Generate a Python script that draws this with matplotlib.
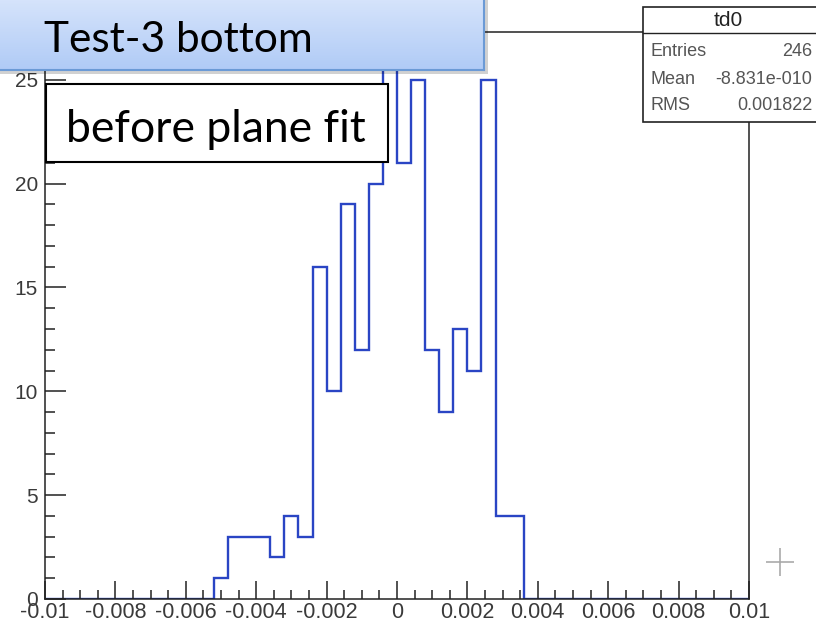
import numpy as np
import matplotlib
matplotlib.use("Agg")
import matplotlib.pyplot as plt
from matplotlib.patches import Rectangle
from matplotlib.lines import Line2D
from matplotlib.ticker import FixedLocator, MultipleLocator
from matplotlib.colors import LinearSegmentedColormap

# histogram td0: 50 bins from -0.01 to 0.01
x_lo, x_hi = -0.01, 0.01
n_bins = 50
counts = [0, 0, 0, 0, 0, 0, 0, 0, 0, 0, 0, 0,
          1, 3, 3, 3, 2, 4, 3, 16, 10, 19, 12, 20, 26, 21, 25, 12, 9, 13, 11, 25, 4, 4,
          0, 0, 0, 0, 0, 0, 0, 0, 0, 0, 0, 0, 0, 0, 0, 0]

x_ticks = [-0.01, -0.008, -0.006, -0.004, -0.002, 0, 0.002, 0.004, 0.006, 0.008, 0.01]
x_labels = ["-0.01", "-0.008", "-0.006", "-0.004", "-0.002", "0",
            "0.002", "0.004", "0.006", "0.008", "0.01"]
y_ticks = [0, 5, 10, 15, 20, 25]

hist_name = "td0"
stat_names = ["Entries", "Mean", "RMS"]
stat_values = ["246", "-8.831e-010", "0.001822"]

title_text = "Test-3 bottom"
note_text = "before plane fit"

W, H = 816, 626
def fx(px):  # pixel -> figure fraction
    return px / W
def fy(py):
    return 1 - py / H

fig = plt.figure(figsize=(W / 100, H / 100), dpi=100)
ax = fig.add_axes([fx(45), fy(599), fx(749) - fx(45), fy(32) - fy(599)])

edges = np.linspace(x_lo, x_hi, n_bins + 1)
ax.stairs(counts, edges, color="#2a45c4", lw=1.7)

ax.set_xlim(x_lo, x_hi)
ax.set_ylim(0, 1.05 * max(counts))

ax.xaxis.set_major_locator(FixedLocator(x_ticks))
ax.set_xticklabels(x_labels)
ax.xaxis.set_minor_locator(MultipleLocator(0.0005))
ax.yaxis.set_major_locator(FixedLocator(y_ticks))
ax.yaxis.set_minor_locator(MultipleLocator(1))

axis_col = "#222222"
for s in ax.spines.values():
    s.set_color(axis_col)
    s.set_linewidth(1.1)
ax.tick_params(axis="x", which="major", direction="in", length=13, width=1.1,
               color=axis_col, labelsize=15.5, labelcolor="#3a3a3a", pad=2)
ax.tick_params(axis="x", which="minor", direction="in", length=6.5, width=1.1, color=axis_col)
ax.tick_params(axis="y", which="major", direction="in", length=15, width=1.1,
               color=axis_col, labelsize=15, labelcolor="#3a3a3a", pad=5)
ax.tick_params(axis="y", which="minor", direction="in", length=7.5, width=1.1, color=axis_col)
for lab in ax.get_xticklabels() + ax.get_yticklabels():
    lab.set_family("Liberation Sans")

# stats box
fig.add_artist(Rectangle((fx(643), fy(122)), fx(830) - fx(643), fy(7) - fy(122),
                         transform=fig.transFigure, facecolor="white",
                         edgecolor="#222222", lw=1.2, zorder=2))
fig.add_artist(Line2D([fx(643), fx(830)], [fy(33), fy(33)], transform=fig.transFigure,
                      color="#222222", lw=1.0, zorder=3))
fig.text(fx(728), fy(21), hist_name, ha="center", va="center", fontsize=15,
         family="Liberation Sans", color="#222222", zorder=4)
for i, (nm, val) in enumerate(zip(stat_names, stat_values)):
    yy = fy(52 + 27 * i)
    fig.text(fx(650), yy, nm, ha="left", va="center", fontsize=13,
             family="Liberation Sans", color="#555555", zorder=4)
    fig.text(fx(812), yy, val, ha="right", va="center", fontsize=13,
             family="Liberation Sans", color="#555555", zorder=4)

# title callout (blue gradient box)
fig.add_artist(Rectangle((fx(-10), fy(74)), fx(488) - fx(-10), fy(-10) - fy(74),
                         transform=fig.transFigure, facecolor="#000000", alpha=0.18,
                         lw=0, zorder=4))
tb = fig.add_axes([fx(-10), fy(70), fx(484) - fx(-10), fy(-10) - fy(70)], zorder=5)
grad = np.linspace(0, 1, 100)[:, None]
cm = LinearSegmentedColormap.from_list("blu", ["#dbe7fc", "#b0cbf6"])
tb.imshow(grad, aspect="auto", cmap=cm, extent=[0, 1, 0, 1], origin="upper")
tb.set_xticks([])
tb.set_yticks([])
for s in tb.spines.values():
    s.set_color("#6b9ad6")
    s.set_linewidth(1.5)
fig.text(fx(44), fy(52), title_text, ha="left", va="baseline", fontsize=30.5,
         family="Lato", color="black", zorder=6)

# note box
fig.add_artist(Rectangle((fx(46), fy(162)), fx(388) - fx(46), fy(84) - fy(162),
                         transform=fig.transFigure, facecolor="white",
                         edgecolor="black", lw=1.5, zorder=4))
fig.text(fx(66), fy(142), note_text, ha="left", va="baseline", fontsize=32,
         family="Lato", color="black", zorder=6)

# cursor crosshair left in the screenshot
fig.add_artist(Line2D([fx(780)], [fy(562)], marker="+", markersize=20, mew=1.2,
                      color="#aaaaaa", transform=fig.transFigure, zorder=4))

fig.savefig("out.png", dpi=100)
